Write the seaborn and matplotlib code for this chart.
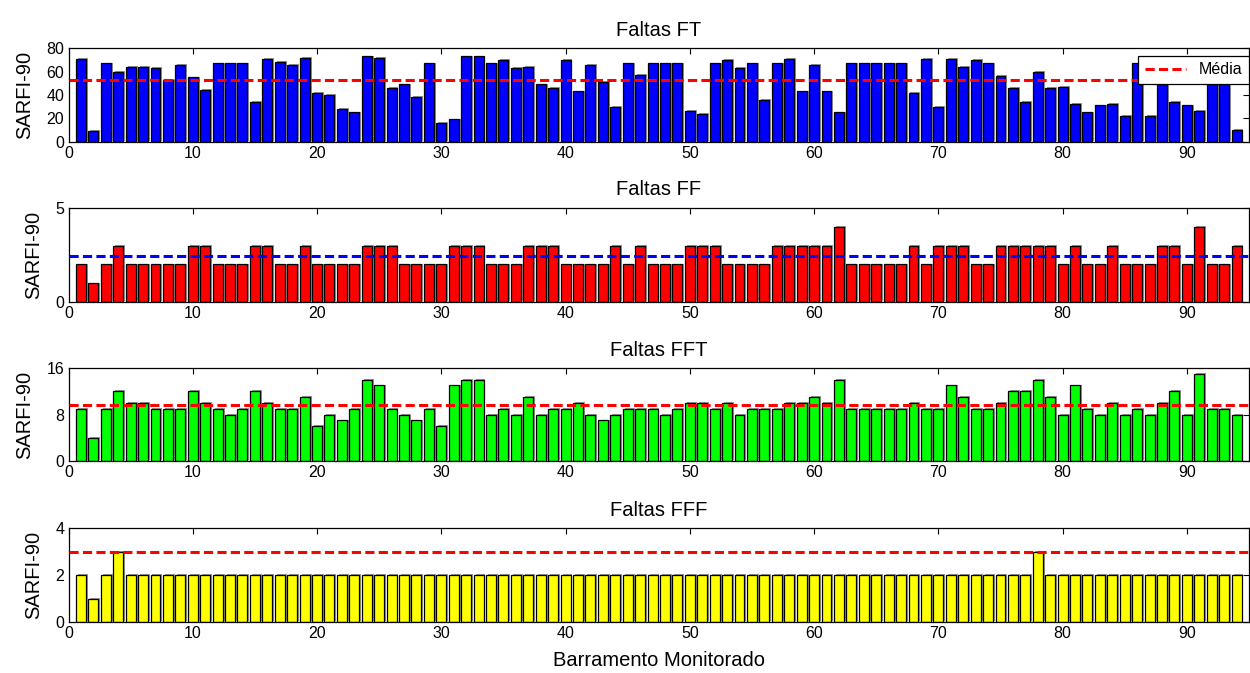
import matplotlib
matplotlib.use("Agg")
import matplotlib.pyplot as plt
import matplotlib.patheffects as pe
import seaborn as sns

# Monitored buses
barramentos = list(range(1, 95))

# SARFI-90 per bus for each fault type
sarfi_ft = [71, 9, 67, 60, 64, 64, 63, 53, 66, 55, 44, 67, 67, 67, 34, 71, 68, 66, 72, 42,
            40, 28, 25, 73, 72, 46, 49, 38, 67, 16, 19, 73, 73, 67, 70, 63, 64, 49, 46, 70,
            43, 66, 51, 30, 67, 57, 67, 67, 67, 26, 24, 67, 70, 63, 67, 36, 67, 71, 43, 66,
            43, 25, 67, 67, 67, 67, 67, 42, 71, 30, 71, 64, 70, 67, 56, 46, 34, 60, 46, 47,
            32, 25, 31, 32, 22, 67, 22, 60, 34, 31, 26, 64, 67, 10]
sarfi_ff = [2, 1, 2, 3, 2, 2, 2, 2, 2, 3, 3, 2, 2, 2, 3, 3, 2, 2, 3, 2,
            2, 2, 2, 3, 3, 3, 2, 2, 2, 2, 3, 3, 3, 2, 2, 2, 3, 3, 3, 2,
            2, 2, 2, 3, 2, 3, 2, 2, 2, 3, 3, 3, 2, 2, 2, 2, 3, 3, 3, 3,
            3, 4, 2, 2, 2, 2, 2, 3, 2, 3, 3, 3, 2, 2, 3, 3, 3, 3, 3, 2,
            3, 2, 2, 3, 2, 2, 2, 3, 3, 2, 4, 2, 2, 3]
sarfi_fft = [9, 4, 9, 12, 10, 10, 9, 9, 9, 12, 10, 9, 8, 9, 12, 10, 9, 9, 11, 6,
             8, 7, 9, 14, 13, 9, 8, 7, 9, 6, 13, 14, 14, 8, 9, 8, 11, 8, 9, 9,
             10, 8, 7, 8, 9, 9, 9, 8, 9, 10, 10, 9, 10, 8, 9, 9, 9, 10, 10, 11,
             10, 14, 9, 9, 9, 9, 9, 10, 9, 9, 13, 11, 9, 9, 10, 12, 12, 14, 11, 8,
             13, 9, 8, 10, 8, 9, 8, 10, 12, 8, 15, 9, 9, 8]
sarfi_fff = [2, 1, 2, 3] + [2] * 73 + [3] + [2] * 16

# Level of the dashed reference line in each panel
media = [53.0, 2.45, 9.7, 3.0]

titulos = ["Faltas FT", "Faltas FF", "Faltas FFT", "Faltas FFF"]
series = [sarfi_ft, sarfi_ff, sarfi_fft, sarfi_fff]
cores_barras = ["#0000ff", "#ff0000", "#00ff00", "#ffff00"]
cores_media = ["#ff0000", "#0000ff", "#ff0000", "#ff0000"]
y_lim = [80, 5, 16, 4]
y_ticks = [[0, 20, 40, 60, 80], [0, 5], [0, 8, 16], [0, 2, 4]]
x_ticks = list(range(0, 100, 10))

sns.set_style("white")
plt.rcParams["font.family"] = ["Liberation Sans", "DejaVu Sans"]
plt.rcParams["text.color"] = "black"
plt.rcParams["axes.labelcolor"] = "black"

W, H = 1250, 673
fig = plt.figure(figsize=(W / 100, H / 100), dpi=100)

# axes boxes in pixels: (top, bottom)
caixas = [(48.3, 141.6), (207.7, 302.3), (368.0, 461.3), (528.3, 622.3)]
x0, x1 = 68.5, 1249.0

sombra = [pe.SimplePatchShadow(offset=(1.4, 0.6), shadow_rgbFace="0.55", alpha=0.9),
          pe.Normal()]

for i, (top, bot) in enumerate(caixas):
    ax = fig.add_axes([x0 / W, 1 - bot / H, (x1 - x0) / W, (bot - top) / H])
    sns.barplot(x=barramentos, y=series[i], native_scale=True, color=cores_barras[i],
                saturation=1, edgecolor="black", linewidth=0.9, width=0.8, ax=ax)
    for p in ax.patches:
        p.set_path_effects(sombra)
    ax.axhline(media[i], color=cores_media[i], linestyle=(0, (3.0, 1.4)),
               linewidth=2.2, label="Média", zorder=5)
    ax.set_xlim(0, 95)
    ax.set_ylim(0, y_lim[i])
    ax.set_xticks(x_ticks)
    ax.set_xticklabels([str(t) for t in x_ticks])
    ax.set_yticks(y_ticks[i])
    ax.set_yticklabels([str(t) for t in y_ticks[i]])
    ax.tick_params(direction="in", top=True, right=True, length=4, width=0.8,
                   labelsize=11.5, pad=3, colors="black")
    for s in ax.spines.values():
        s.set_visible(True)
        s.set_color("black")
        s.set_linewidth(0.9)
    ax.set_title(titulos[i], fontsize=14.5, pad=9, color="black")
    ax.set_ylabel("SARFI-90", fontsize=14.5, labelpad=9, color="black")
    ax.set_xlabel("")
    if i == 0:
        leg = ax.legend(loc="upper right", bbox_to_anchor=(1.0, 0.92), borderaxespad=0,
                        frameon=True, fancybox=False, framealpha=1, edgecolor="black",
                        fontsize=11.5, handlelength=2.6, borderpad=0.4)
        leg.get_frame().set_linewidth(0.9)
        for t in leg.get_texts():
            t.set_color("black")
    if i == 3:
        ax.set_xlabel("Barramento Monitorado", fontsize=14.5, labelpad=7, color="black")

fig.savefig("out.png", dpi=100)
